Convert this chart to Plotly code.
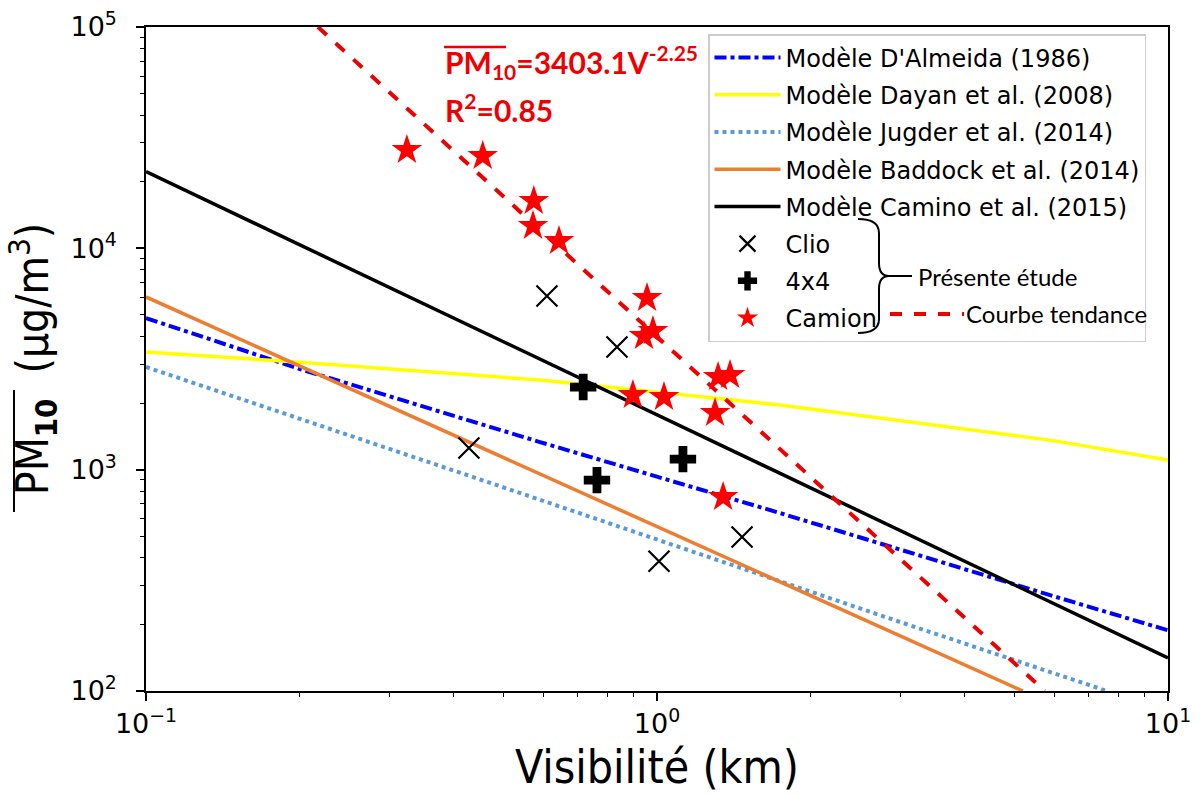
import plotly.graph_objects as go

# ---------------- data ----------------
# Model curves (visibility km, PM10 µg/m3)
almeida_v = [0.1, 0.2, 0.59, 1.74, 5.88, 10]
almeida_pm = [4840, 2850, 1333, 637, 271, 188]

dayan_v = [0.1, 0.2, 0.59, 1.74, 5.88, 10]
dayan_pm = [3400, 3060, 2540, 1960, 1360, 1105]

jugder_v = [0.1, 0.4365, 2.99, 7.6]
jugder_pm = [2910, 926, 205, 100]

baddock_v = [0.1, 5.2]
baddock_pm = [6030, 100]

camino_v = [0.1, 10]
camino_pm = [22200, 141]

trend_v = [0.217, 5.74]
trend_pm = [100000, 100]

# Measurements of the present study
clio_v = [0.609, 0.835, 0.4285, 1.009, 1.467]
clio_pm = [6086, 3580, 1252, 386, 496]

x4_v = [0.717, 0.763, 1.124]
x4_pm = [2362, 897, 1116]

camion_v = [0.324, 0.456, 0.574, 0.572, 0.643, 0.956, 0.943, 0.982,
            0.897, 1.032, 1.317, 1.390, 1.299, 1.347]
camion_pm = [27800, 26130, 16360, 12620, 10790, 5960, 4015, 4230,
             2174, 2128, 2620, 2677, 1802, 752]

x_tickvals = [0.1, 1, 10]
x_ticktext = ["10<sup>−1</sup>", "10<sup>0</sup>", "10<sup>1</sup>"]
y_tickvals = [100, 1000, 10000, 100000]
y_ticktext = ["10<sup>2</sup>", "10<sup>3</sup>", "10<sup>4</sup>", "10<sup>5</sup>"]
digits = [2, 3, 4, 5, 6, 7, 8, 9]
x_minor = [d * dec for dec in (0.1, 1) for d in digits]
y_minor = [d * dec for dec in (100, 1000, 10000) for d in digits]

# ---------------- figure ----------------
L, R, T, B = 146, 1168, 27, 691  # plot-area pixel box


def px(x):
    return (x - L) / (R - L)


def py(y):
    return (B - y) / (B - T)


fig = go.Figure()

fig.add_trace(go.Scatter(x=almeida_v, y=almeida_pm, mode="lines",
                         name="Modèle D'Almeida (1986)", legendgroup="a",
                         line=dict(color="#0000ff", width=4, dash="dashdot")))
fig.add_trace(go.Scatter(x=dayan_v, y=dayan_pm, mode="lines",
                         name="Modèle Dayan et al. (2008)", legendgroup="b",
                         line=dict(color="#ffff00", width=3.5)))
fig.add_trace(go.Scatter(x=jugder_v, y=jugder_pm, mode="lines",
                         name="Modèle Jugder et al. (2014)", legendgroup="c",
                         line=dict(color="#5b9bd5", width=4, dash="dot")))
fig.add_trace(go.Scatter(x=baddock_v, y=baddock_pm, mode="lines",
                         name="Modèle Baddock et al. (2014)", legendgroup="d",
                         line=dict(color="#ed7d31", width=3.5)))
fig.add_trace(go.Scatter(x=camino_v, y=camino_pm, mode="lines",
                         name="Modèle Camino et al. (2015)", legendgroup="e",
                         line=dict(color="black", width=3.5)))
fig.add_trace(go.Scatter(x=trend_v, y=trend_pm, mode="lines",
                         name="Courbe tendance", showlegend=False,
                         line=dict(color="#ee0000", width=4, dash="dash")))
fig.add_trace(go.Scatter(x=clio_v, y=clio_pm, mode="markers", name="Clio",
                         legendgroup="f",
                         marker=dict(symbol="x-thin-open", size=21, color="black",
                                     line=dict(color="black", width=2.2))))
fig.add_trace(go.Scatter(x=x4_v, y=x4_pm, mode="markers", name="4x4",
                         legendgroup="g",
                         marker=dict(symbol="cross", size=22, color="black")))
fig.add_trace(go.Scatter(x=camion_v, y=camion_pm, mode="markers",
                         name="Camion", legendgroup="h",
                         marker=dict(symbol="star", size=23, color="#ff0000",
                                     line=dict(width=0))))

tickfont = dict(family="DejaVu Sans", size=27, color="black")
axis_common = dict(type="log", showline=True, mirror=True, linecolor="black",
                   linewidth=1.5, ticks="outside", ticklen=8, tickwidth=1.5,
                   tickcolor="black", showgrid=False, zeroline=False,
                   automargin=False, tickfont=tickfont, tickmode="array")

fig.update_xaxes(**axis_common, range=[-1, 1], tickvals=x_tickvals,
                 ticktext=x_ticktext,
                 minor=dict(tickmode="array", tickvals=x_minor, ticks="outside",
                            ticklen=4, tickwidth=1.2, tickcolor="black",
                            showgrid=False),
                 title=dict(text="Visibilité (km)", standoff=14,
                            font=dict(family="DejaVu Sans Condensed, DejaVu Sans",
                                      size=46, color="black")))
fig.update_yaxes(**axis_common, range=[2, 5], tickvals=y_tickvals,
                 ticktext=y_ticktext, ticklabelstandoff=14,
                 minor=dict(tickmode="array", tickvals=y_minor, ticks="outside",
                            ticklen=4, tickwidth=1.2, tickcolor="black",
                            showgrid=False),
                 title=dict(text="PM<sub><b>10</b></sub>  (µg/m<sup>3</sup>)",
                            standoff=8,
                            font=dict(family="DejaVu Sans Condensed, DejaVu Sans",
                                      size=44, color="black")))

red = "#ee0000"
annotations = [
    dict(x=px(443), y=py(62), xref="paper", yref="paper", xanchor="left",
         yanchor="middle", showarrow=False,
         text="<b>PM<sub>10</sub>=3403.1V<sup>-2.25</sup></b>",
         font=dict(family="Lato, Open Sans", size=30, color=red)),
    dict(x=px(443), y=py(108), xref="paper", yref="paper", xanchor="left",
         yanchor="middle", showarrow=False, text="<b>R<sup>2</sup>=0.85</b>",
         font=dict(family="Lato, Open Sans", size=30, color=red)),
    dict(x=px(916), y=py(276), xref="paper", yref="paper", xanchor="left",
         yanchor="middle", showarrow=False, text="Présente étude",
         font=dict(family="Lato, Open Sans", size=24, color="black")),
    dict(x=px(964), y=py(313), xref="paper", yref="paper", xanchor="left",
         yanchor="middle", showarrow=False, text="Courbe tendance",
         font=dict(family="Lato, Open Sans", size=24, color="black")),
]


def P(x, y):
    return f"{px(x):.5f},{py(y):.5f}"


brace = ("M " + P(858, 219) + " Q " + P(879, 219) + " " + P(879, 233) +
         " L " + P(879, 263) + " Q " + P(879, 276) + " " + P(889, 276) +
         " Q " + P(879, 276) + " " + P(879, 289) +
         " L " + P(879, 319) + " Q " + P(879, 333) + " " + P(858, 333))

shapes = [
    # overline of PM10 in the equation
    dict(type="line", xref="paper", yref="paper", x0=px(444), x1=px(506),
         y0=py(47), y1=py(47), line=dict(color=red, width=2.5)),
    # brace and pointer
    dict(type="path", xref="paper", yref="paper", path=brace,
         line=dict(color="black", width=2)),
    dict(type="line", xref="paper", yref="paper", x0=px(889), x1=px(912),
         y0=py(276), y1=py(276), line=dict(color="black", width=2)),
    # dashed trend sample in legend
    dict(type="line", xref="paper", yref="paper", x0=px(890), x1=px(964),
         y0=py(314), y1=py(314), line=dict(color=red, width=4, dash="dash")),
    # overline of PM10 in y-axis title
    dict(type="line", xref="paper", yref="paper", x0=px(14), x1=px(14),
         y0=py(512), y1=py(390), line=dict(color="black", width=2)),
]

fig.update_layout(
    width=1200, height=794,
    margin=dict(l=L, r=1200 - R, t=T, b=794 - B),
    paper_bgcolor="white", plot_bgcolor="white",
    font=dict(family="DejaVu Sans", color="black"),
    legend=dict(x=px(708), y=py(34), xanchor="left", yanchor="top",
                bgcolor="rgba(255,255,255,0)", bordercolor="#cccccc",
                borderwidth=1.5, traceorder="grouped", tracegroupgap=3,
                itemwidth=66,
                font=dict(family="DejaVu Sans", size=24, color="black"),
                entrywidth=420),
    annotations=annotations,
    shapes=shapes,
)

fig.write_html(
    "out.html",
    config={"displayModeBar": False},
    post_script="document.body.style.margin='0px';"
                "document.body.style.padding='0px';"
                "document.body.style.overflow='hidden';",
)
